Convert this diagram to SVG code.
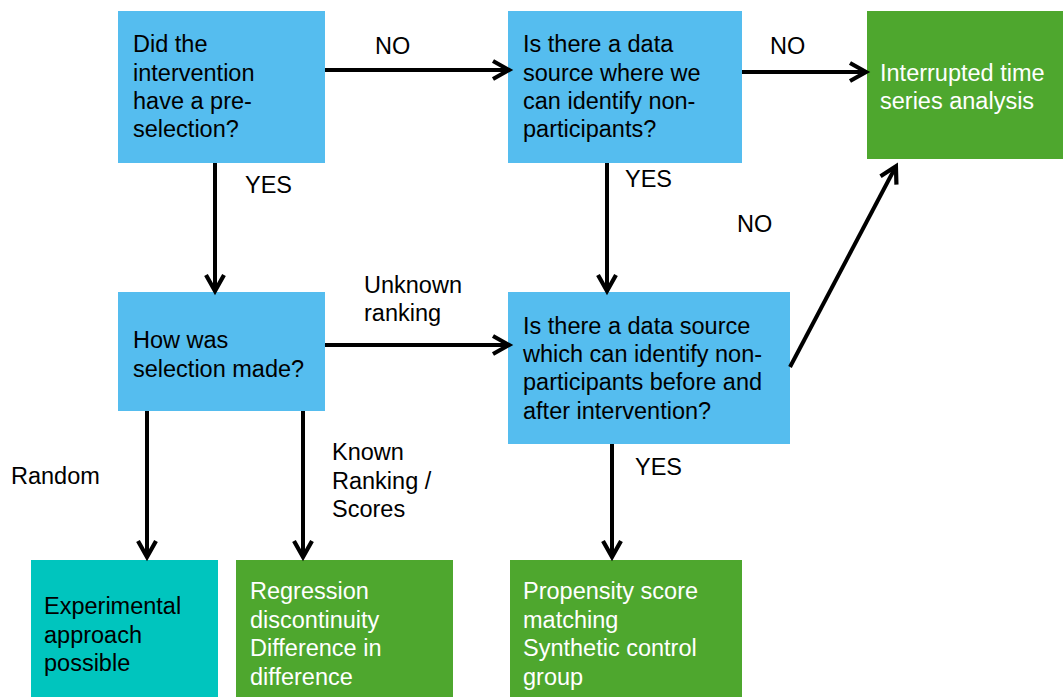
<svg xmlns="http://www.w3.org/2000/svg" width="1063" height="697" viewBox="0 0 1063 697">
<style>
.q{fill:#55BDEF}
.g{fill:#4EA72E}
.t{fill:#00C5BE}
text{font-family:"Liberation Sans",Arial,sans-serif;font-size:23.5px;fill:#000}
.w{fill:#fff}
.c line{stroke:#000;stroke-width:4;marker-end:url(#ah)}
</style>
<defs>
<marker id="ah" markerUnits="userSpaceOnUse" markerWidth="30" markerHeight="30" viewBox="-20 -15 30 30" refX="-2" refY="0" orient="auto">
<path d="M-16,-9 L0,0 L-16,9" fill="none" stroke="#000" stroke-width="4.2"/>
</marker>
</defs>
<rect width="1063" height="697" fill="#fff"/>
<g id="n1"><rect class="q" x="118" y="11" width="207" height="152"/>
<text x="133" y="52">Did the</text><text x="133" y="81">intervention</text><text x="133" y="109">have a pre-</text><text x="133" y="137">selection?</text></g>
<g id="n2"><rect class="q" x="508" y="11" width="234" height="152"/>
<text x="523" y="52">Is there a data</text><text x="523" y="81">source where we</text><text x="523" y="109">can identify non-</text><text x="523" y="137">participants?</text></g>
<g id="n3"><rect class="g" x="867" y="11" width="196" height="148"/>
<text class="w" x="880" y="81">Interrupted time</text><text class="w" x="880" y="109">series analysis</text></g>
<g id="n4"><rect class="q" x="118" y="292" width="207" height="119"/>
<text x="133" y="348">How was</text><text x="133" y="377">selection made?</text></g>
<g id="n5"><rect class="q" x="508" y="292" width="282" height="152"/>
<text x="523" y="334">Is there a data source</text><text x="523" y="362">which can identify non-</text><text x="523" y="390">participants before and</text><text x="523" y="419">after intervention?</text></g>
<g id="n6"><rect class="t" x="31" y="560" width="187" height="137"/>
<text x="44" y="614">Experimental</text><text x="44" y="643">approach</text><text x="44" y="671">possible</text></g>
<g id="n7"><rect class="g" x="236" y="560" width="217" height="137"/>
<text class="w" x="250" y="599">Regression</text><text class="w" x="250" y="628">discontinuity</text><text class="w" x="250" y="656">Difference in</text><text class="w" x="250" y="685">difference</text></g>
<g id="n8"><rect class="g" x="510" y="560" width="232" height="137"/>
<text class="w" x="523" y="599">Propensity score</text><text class="w" x="523" y="628">matching</text><text class="w" x="523" y="656">Synthetic control</text><text class="w" x="523" y="685">group</text></g>
<g id="connectors" class="c">
<line x1="325" y1="70" x2="507" y2="70"/>
<line x1="742" y1="72" x2="864" y2="72"/>
<line x1="215" y1="163" x2="215" y2="289"/>
<line x1="607" y1="163" x2="607" y2="289"/>
<line x1="325" y1="345" x2="507" y2="345"/>
<line x1="790" y1="367" x2="895" y2="168"/>
<line x1="147" y1="411" x2="147" y2="555"/>
<line x1="303" y1="411" x2="303" y2="555"/>
<line x1="612" y1="444" x2="612" y2="555"/>
</g>
<g id="labels">
<text x="375" y="54">NO</text>
<text x="770" y="54">NO</text>
<text x="245" y="193">YES</text>
<text x="625" y="187">YES</text>
<text x="737" y="232">NO</text>
<text x="364" y="293">Unknown</text>
<text x="364" y="321">ranking</text>
<text x="11" y="484">Random</text>
<text x="332" y="460">Known</text>
<text x="332" y="489">Ranking /</text>
<text x="332" y="517">Scores</text>
<text x="635" y="475">YES</text>
</g>
</svg>
